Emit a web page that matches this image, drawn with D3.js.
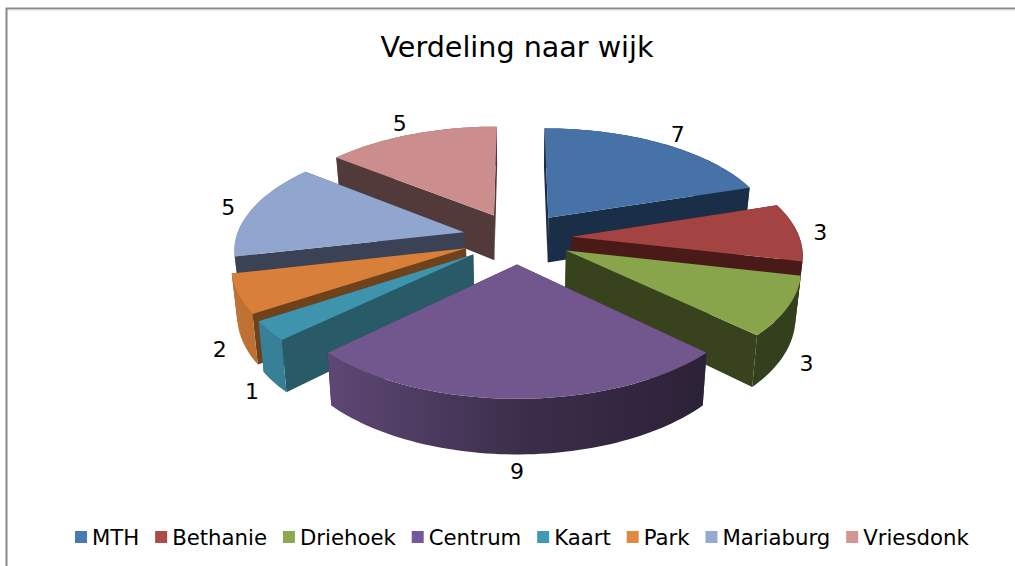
<!DOCTYPE html>
<html lang="en">

<head>
    <meta charset="UTF-8">
    <title>Verdeling naar wijk</title>
    <script src="https://d3js.org/d3.v7.js"></script>
    <style>
        html, body { margin: 0; padding: 0; background: #fff; overflow: hidden; }
        text { font-family: "DejaVu Sans", Verdana, sans-serif; fill: #000; }
    </style>
</head>

<body>
    <div id="chart"></div>

    <script>
        const title = "Verdeling naar wijk";
        const wijken = ["MTH", "Bethanie", "Driehoek", "Centrum", "Kaart", "Park", "Mariaburg", "Vriesdonk"];
        const aantallen = [7, 3, 3, 9, 1, 2, 5, 5];
        const topColors = ["#4672a8", "#a44442", "#88a54c", "#71578d", "#3f94ad", "#d8803a", "#91a6cf", "#cc8d8d"];
        const legendColors = ["#4a7ab2", "#ad4b48", "#8ca950", "#7559a0", "#419ab4", "#de8a41", "#95a9d2", "#d29695"];
        const wallColors = ["#1a2e47", "#4a1a18", "#38421c", "#3c2f50", "#285a68", "#6f421b", "#3b4256", "#533a3a"];

        const width = 1015;
        const height = 566;

        // fake 3d: unit pie lying flat, x to the right, y going backwards
        const cx = 517, cy = 238, radius = 228;
        const tilt = 0.47, perspective = 0.14, explode = 0.24, depth = 46;
        // lower points are further from the camera, walls lean inwards a bit
        const lean = 0.02;

        const svg = d3.select("#chart").append("svg")
            .attr("width", width)
            .attr("height", height)
            .style("display", "block");

        // frame of the chart, only top and left are in the picture
        svg.append("path")
            .attr("d", `M6.5,${height}V8.5H${width}`)
            .attr("fill", "none")
            .attr("stroke", "#888")
            .attr("stroke-width", 2);
        svg.append("line")
            .attr("x1", 8).attr("x2", width)
            .attr("y1", 10).attr("y2", 10)
            .attr("stroke", "#ddd");

        svg.append("text")
            .attr("x", 517)
            .attr("y", 57)
            .attr("text-anchor", "middle")
            .style("font-size", "28.6px")
            .text(title);

        const pie = d3.pie().sort(null).value(d => d.value);
        const slices = pie(wijken.map((name, i) => ({ name, value: aantallen[i], index: i })));

        function project(x, y, z) {
            const s = 1 / (1 + perspective * y);
            return [cx + x * radius * s * (1 - lean * z), cy - y * radius * tilt * s + z * depth * s];
        }

        const line = d3.line();
        const polygon = pts => line(pts) + "Z";

        // shading of the rim, lighter on the left
        const rimShade = d3.scaleLinear()
            .domain([230, 330, 520, 710, 800])
            .range([0.9, 0.82, 0.53, 0.38, 0.38]);
        const defs = svg.append("defs");

        slices.forEach(slice => {
            const i = slice.data.index;
            const base = d3.color(topColors[i]);
            const grad = defs.append("linearGradient")
                .attr("id", "rim" + i)
                .attr("gradientUnits", "userSpaceOnUse")
                .attr("x1", 230).attr("x2", 800)
                .attr("y1", 0).attr("y2", 0);
            rimShade.domain().forEach(x => {
                const k = rimShade(x);
                grad.append("stop")
                    .attr("offset", (x - 230) / 570)
                    .attr("stop-color", d3.rgb(base.r * k, base.g * k, base.b * k).formatHex());
            });
        });

        const mid = d => (d.startAngle + d.endAngle) / 2;
        const offset = d => [explode * Math.sin(mid(d)), explode * Math.cos(mid(d))];

        function rimPoint(d, angle, r) {
            const [ox, oy] = offset(d);
            return [ox + r * Math.sin(angle), oy + r * Math.cos(angle)];
        }

        function arcPoints(d) {
            const n = Math.ceil((d.endAngle - d.startAngle) * 40);
            return d3.range(n + 1).map(k => rimPoint(d, d.startAngle + (d.endAngle - d.startAngle) * k / n, 1));
        }

        function faces(d) {
            const i = d.data.index;
            const apex = offset(d);
            const rim = arcPoints(d);
            const quad = (a, b) => [project(a[0], a[1], 0), project(b[0], b[1], 0), project(b[0], b[1], 1), project(a[0], a[1], 1)];
            const list = [
                { y: (apex[1] + rim[0][1]) / 2, path: polygon(quad(apex, rim[0])), fill: wallColors[i] },
                { y: (apex[1] + rim[rim.length - 1][1]) / 2, path: polygon(quad(apex, rim[rim.length - 1])), fill: wallColors[i] },
                {
                    y: d3.mean(rim, p => p[1]),
                    path: polygon(rim.map(p => project(p[0], p[1], 0)).concat(rim.slice().reverse().map(p => project(p[0], p[1], 1)))),
                    fill: `url(#rim${i})`
                }
            ];
            return list.sort((a, b) => b.y - a.y);
        }

        // painter's order: slices furthest back first
        const order = slices.slice().sort((a, b) => offset(b)[1] - offset(a)[1]);

        const sliceGroup = svg.append("g")
            .selectAll("g")
            .data(order)
            .join("g");

        sliceGroup.selectAll("path.side")
            .data(d => faces(d))
            .join("path")
            .attr("class", "side")
            .attr("d", d => d.path)
            .attr("fill", d => d.fill);

        sliceGroup.append("path")
            .attr("d", d => {
                const a = offset(d);
                return polygon([project(a[0], a[1], 0)].concat(arcPoints(d).map(p => project(p[0], p[1], 0))));
            })
            .attr("fill", d => topColors[d.data.index]);

        // value labels just outside the rim, under it on the front half
        svg.append("g")
            .selectAll("text")
            .data(slices)
            .join("text")
            .attr("text-anchor", "middle")
            .attr("dy", "0.36em")
            .style("font-size", "22px")
            .each(function (d) {
                const p = rimPoint(d, mid(d), 1.1 + 0.06 * Math.max(0, Math.cos(mid(d))));
                const pos = project(p[0], p[1], p[1] < 0 ? 1 : 0);
                d3.select(this).attr("x", pos[0]).attr("y", pos[1]);
            })
            .text(d => d.data.value);

        // legend, laid out from the measured text widths
        const legend = svg.append("g");
        let legendX = 75;
        wijken.forEach((name, i) => {
            legend.append("rect")
                .attr("x", legendX)
                .attr("y", 531)
                .attr("width", 12)
                .attr("height", 12)
                .attr("fill", legendColors[i]);
            const label = legend.append("text")
                .attr("x", legendX + 17)
                .attr("y", 545)
                .style("font-size", "21.25px")
                .text(name);
            legendX += 17 + label.node().getComputedTextLength() + 15.85;
        });
    </script>
</body>

</html>
